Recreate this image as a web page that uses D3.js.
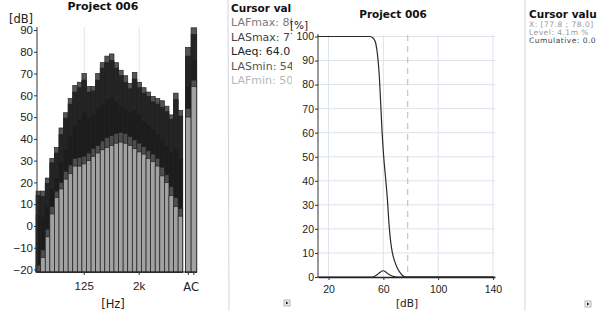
<!DOCTYPE html>
<html>
<head>
<meta charset="utf-8">
<script src="https://cdn.jsdelivr.net/npm/d3@7"></script>
<style>
  body { margin: 0; background: #fff; }
  svg { display: block; font-family: "DejaVu Sans", sans-serif; }
</style>
</head>
<body>
<svg id="chart" width="597" height="311"></svg>
<script>
// 1/3 octave bands
const bands = ["12.5","16","20","25","31.5","40","50","63","80","100","125","160","200","250","315","400",
  "500","630","800","1k","1.25k","1.6k","2k","2.5k","3.15k","4k","5k","6.3k","8k","10k","12.5k","16k"];
const bandTicks = ["125", "2k"];
const totals = ["A", "C"];

const seriesNames = ["LAFmax", "LASmax", "LAeq", "LASmin", "LAFmin"];
const LAFmax = [16,16,22,31,36,45,52,58.5,64.5,66,70,64,64,70,75,78,79,75,71.5,69,65.5,70.5,66,63.5,61.5,59.5,58.5,57.5,55,51,61,53];
const LASmax = [14,13.5,19.5,29,33.5,42,49.5,56,61.5,63.5,67,61.5,62,67,72.5,75,76,72.5,69,66,63,67.5,63.5,61,59.5,57,56,54.5,52.5,49,58,50.5];
const LAeq   = [5,4,9,17,22,29,35,41,46,49,52,50,51,54,56,58,59,57,55,54,52,53,51,48,46,44,42,40,37,34,35,31];
const LASmin = [-18,-11,-1.5,9,16,20,25,28,31,31.5,32,33.5,35.5,37,39,40.5,41.5,42.5,43,42.5,41,39.5,38,36.5,34.5,33,31,27,23.5,18,13,8];
const LAFmin = [-21,-14.5,-5,5.5,13,17,21.5,24,27.5,27.5,28.5,30,32,33.5,35,36,37,38,38.5,38,37,35.5,34,33,31,29.5,27.5,23,20,14,9,4.5];
// A / C totals, same order as seriesNames
const totalA = [82, 78, 64, 54, 50];
const totalC = [91, 88, 76, 67, 64];

const dbTicks = [-20,-10,0,10,20,30,40,50,60,70,80,90];

// level distribution (right chart)
const cumLevels = [12,50,52,54,55,56,57,58,59,60,61,62,63,64,65,66,67,68,70,72,74,76,141];
const cumPct    = [100,100,99.6,98,95.5,91,84,73,61,52,45,39,32,23,16.5,12,9,7,4,2,0.6,0,0];
const distLevels = [12,52,54,56,58,59,60,61,62,64,66,68,70,141];
const distPct    = [0,0,0.4,1.2,2.1,2.5,2.6,2.4,2.0,1.1,0.5,0.15,0,0];
const levelTicks = [20,60,100,140];
const pctTicks = [0,10,20,30,40,50,60,70,80,90,100];
const cursorX = 77.8;

const leftCursor = [["LAFmax: 80", "#7a7a7a"], ["LASmax: 77.9", "#444"], ["LAeq: 64.0", "#1e1e1e"],
  ["LASmin: 54", "#555"], ["LAFmin: 50", "#b8b8b8"]];
const rightCursor = [["X: [77.8 ; 78.0]", "#9a9a9a"], ["Level: 4.1m %", "#9a9a9a"], ["Cumulative: 0.0 %", "#444"]];

const colors = ["#555555", "#242424", "#1c1c1c", "#4e4e4e", "#a2a2a2"];
const gridColor = "#dde3ec";

const svg = d3.select("#chart");

// ---------- left: spectrum ----------
const xB = d3.scaleBand().domain(bands).range([36.1, 182.7]);
const xT = d3.scaleBand().domain(totals).range([185.5, 196.7]);
const yL = d3.scaleLinear().domain([-20, 90]).range([269.5, 30]);
const yBase = 272;

const left = svg.append("g");

left.selectAll(".vgrid").data(bandTicks).enter().append("line")
  .attr("x1", d => xB(d) + xB.bandwidth() / 2).attr("x2", d => xB(d) + xB.bandwidth() / 2)
  .attr("y1", 27).attr("y2", yBase)
  .attr("stroke", gridColor);

const barData = [];
seriesNames.forEach((s, si) => {
  const vals = [LAFmax, LASmax, LAeq, LASmin, LAFmin][si];
  bands.forEach((b, i) => barData.push({ s: si, x: xB(b), w: xB.bandwidth(), v: vals[i] }));
  barData.push({ s: si, x: xT("A"), w: xT.bandwidth(), v: totalA[si] });
  barData.push({ s: si, x: xT("C"), w: xT.bandwidth(), v: totalC[si] });
});

left.selectAll(".bar").data(barData).enter().append("rect")
  .attr("x", d => d.x)
  .attr("width", d => d.w)
  .attr("y", d => Math.min(yL(d.v), yBase))
  .attr("height", d => Math.max(0, yBase - yL(d.v)))
  .attr("fill", d => colors[d.s])
  .attr("stroke", "#222")
  .attr("stroke-width", 0.7);

// y axis
const yAxisL = left.append("g").attr("transform", "translate(37,0)")
  .call(d3.axisLeft(yL).tickValues(dbTicks).tickSize(3).tickSizeOuter(0));
yAxisL.select(".domain").attr("d", `M0,27V${yBase}`);
yAxisL.selectAll("text").attr("font-size", 11.5).attr("fill", "#222").attr("x", -4);
yAxisL.selectAll("line, path").attr("stroke", "#333");

// x axis
left.append("line").attr("x1", 37).attr("x2", 197).attr("y1", yBase).attr("y2", yBase).attr("stroke", "#222").attr("stroke-width", 1.2);
const xAxisL = left.append("g").attr("transform", `translate(0,${yBase})`)
  .call(d3.axisBottom(xB).tickValues(bandTicks).tickSize(3).tickSizeOuter(0));
xAxisL.select(".domain").remove();
xAxisL.selectAll("text").attr("font-size", 11.5).attr("fill", "#222").attr("dy", "1.0em");
xAxisL.selectAll("line").attr("stroke", "#333");
const xAxisT = left.append("g").attr("transform", `translate(0,${yBase})`)
  .call(d3.axisBottom(xT).tickSize(3).tickSizeOuter(0).tickFormat(""));
xAxisT.select(".domain").remove();
xAxisT.selectAll("line").attr("stroke", "#333");
left.append("text").attr("x", (xT.range()[0] + xT.range()[1]) / 2).attr("y", 291)
  .attr("text-anchor", "middle").attr("font-size", 11.5).attr("fill", "#222").text("AC");

left.append("text").attr("x", 21).attr("y", 23).attr("text-anchor", "middle")
  .attr("font-size", 11.5).attr("fill", "#222").text("[dB]");
left.append("text").attr("x", 113).attr("y", 308).attr("text-anchor", "middle")
  .attr("font-size", 11.5).attr("fill", "#222").text("[Hz]");
left.append("text").attr("x", 103).attr("y", 9.5).attr("text-anchor", "middle")
  .attr("font-size", 11).attr("font-weight", "bold").attr("fill", "#111").text("Project 006");

// left cursor panel
svg.append("line").attr("x1", 228).attr("x2", 229).attr("y1", 0).attr("y2", 311).attr("stroke", "#cfd5de");
svg.append("clipPath").attr("id", "clipL").append("rect").attr("x", 229).attr("y", 0).attr("width", 63).attr("height", 311);
const lc = svg.append("g").attr("clip-path", "url(#clipL)");
lc.append("text").attr("x", 231).attr("y", 12).attr("font-size", 10.5).attr("font-weight", "bold")
  .attr("fill", "#111").text("Cursor values");
lc.selectAll(".lc").data(leftCursor).enter().append("text")
  .attr("x", 231).attr("y", (d, i) => 26 + i * 14.5)
  .attr("font-size", 11).attr("fill", d => d[1]).text(d => d[0]);
svg.append("rect").attr("x", 284).attr("y", 300).attr("width", 6).attr("height", 6).attr("fill", "#eee").attr("stroke", "#999").attr("stroke-width", 0.7);
svg.append("path").attr("d", "M286,301.5L288.5,303L286,304.5Z").attr("fill", "#111");

// ---------- right: level distribution ----------
const xR = d3.scaleLinear().domain([12.3, 141.5]).range([318, 495]);
const yR = d3.scaleLinear().domain([0, 100]).range([277, 36.5]);
const right = svg.append("g");

right.selectAll(".hg").data(pctTicks.slice(1)).enter().append("line")
  .attr("x1", 318).attr("x2", 495).attr("y1", d => yR(d)).attr("y2", d => yR(d))
  .attr("stroke", gridColor);
right.selectAll(".vg").data(levelTicks).enter().append("line")
  .attr("x1", d => xR(d)).attr("x2", d => xR(d)).attr("y1", 35).attr("y2", 277)
  .attr("stroke", gridColor);

right.append("line").attr("x1", xR(cursorX)).attr("x2", xR(cursorX)).attr("y1", 35).attr("y2", 277)
  .attr("stroke", "#b4bac4").attr("stroke-dasharray", "6,5");

const line = d3.line().x(d => xR(d[0])).y(d => yR(d[1])).curve(d3.curveMonotoneX);
right.append("path").datum(d3.zip(cumLevels, cumPct)).attr("d", line)
  .attr("fill", "none").attr("stroke", "#2a2a2a").attr("stroke-width", 1.2);
right.append("path").datum(d3.zip(distLevels, distPct)).attr("d", line)
  .attr("fill", "none").attr("stroke", "#2a2a2a").attr("stroke-width", 1.2);

const yAxisR = right.append("g").attr("transform", "translate(318,0)")
  .call(d3.axisLeft(yR).tickValues(pctTicks).tickSize(3).tickSizeOuter(0));
yAxisR.select(".domain").attr("d", "M0,34V277");
yAxisR.selectAll("text").attr("font-size", 10.5).attr("fill", "#222").attr("x", -4);
yAxisR.selectAll("line, path").attr("stroke", "#333");

const xAxisR = right.append("g").attr("transform", "translate(0,277)")
  .call(d3.axisBottom(xR).tickValues(levelTicks).tickSize(3).tickSizeOuter(0));
xAxisR.select(".domain").attr("stroke", "#222").attr("stroke-width", 1.3);
xAxisR.selectAll("text").attr("font-size", 10.5).attr("fill", "#222").attr("dy", "0.95em");
xAxisR.selectAll("line").attr("stroke", "#333");

right.append("text").attr("x", 299).attr("y", 28.5).attr("text-anchor", "middle")
  .attr("font-size", 10.5).attr("fill", "#222").text("[%]");
right.append("text").attr("x", 407).attr("y", 307).attr("text-anchor", "middle")
  .attr("font-size", 10.5).attr("fill", "#222").text("[dB]");
right.append("text").attr("x", 393).attr("y", 18).attr("text-anchor", "middle")
  .attr("font-size", 10.5).attr("font-weight", "bold").attr("fill", "#111").text("Project 006");

// right cursor panel
svg.append("line").attr("x1", 525).attr("x2", 525).attr("y1", 0).attr("y2", 311).attr("stroke", "#cfd5de");
svg.append("text").attr("x", 529).attr("y", 18).attr("font-size", 10.5).attr("font-weight", "bold")
  .attr("fill", "#111").text("Cursor values");
svg.selectAll(".rc").data(rightCursor).enter().append("text")
  .attr("x", 529).attr("y", (d, i) => 27 + i * 8.2)
  .attr("font-size", 7.5).attr("letter-spacing", 0.5)
  .attr("fill", d => d[1]).text(d => d[0]);
svg.append("rect").attr("x", 585).attr("y", 301).attr("width", 6).attr("height", 6).attr("fill", "#eee").attr("stroke", "#999").attr("stroke-width", 0.7);
svg.append("path").attr("d", "M587,302.5L589.5,304L587,305.5Z").attr("fill", "#111");
</script>
</body>
</html>
